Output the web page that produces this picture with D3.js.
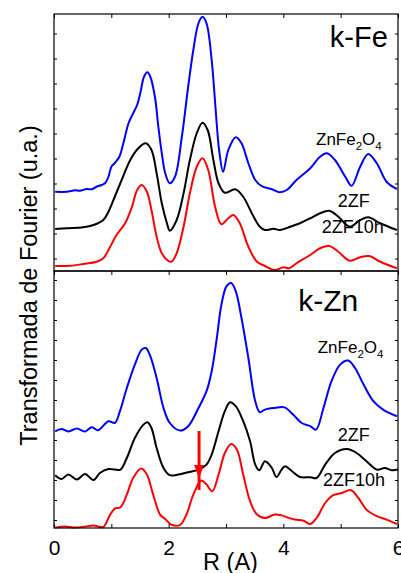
<!DOCTYPE html>
<html><head><meta charset="utf-8">
<script src="https://cdn.jsdelivr.net/npm/d3@7"></script>
<style>body{margin:0;background:#fff}text{font-family:"Liberation Sans",Arial,sans-serif}</style>
</head><body><svg id="c" width="401" height="573"></svg>
<script>
// R (Å) values and intensities (arbitrary units)
const feBlueR = [0.02,0.22,0.37,0.45,0.57,0.66,0.74,0.83,0.89,0.95,1.0,1.06,1.14,1.21,1.30,1.38,1.45,1.51,1.57,1.63,1.68,1.76,1.82,1.88,1.94,2.02,2.11,2.23,2.34,2.43,2.52,2.59,2.66,2.75,2.82,2.88,2.95,3.04,3.17,3.27,3.39,3.51,3.62,3.80,3.94,4.06,4.23,4.47,4.64,4.76,4.90,5.08,5.19,5.34,5.48,5.63,5.80,5.98];
const feBlue = [2.67,2.67,2.73,2.71,2.78,2.77,2.87,2.94,3.01,3.27,3.67,3.82,4.07,4.61,5.41,5.81,6.14,6.67,7.27,7.45,7.27,6.47,5.27,4.21,3.41,3.01,3.27,4.87,6.87,8.34,9.41,9.67,9.41,7.94,5.94,4.34,3.47,4.34,4.85,4.61,3.81,3.14,2.90,2.77,2.65,2.74,3.14,3.61,4.07,4.21,3.94,3.27,2.91,3.67,4.18,3.81,3.07,2.78];
const feBlackR = [0.02,0.22,0.51,0.69,0.86,0.95,1.06,1.18,1.33,1.47,1.60,1.70,1.79,1.88,1.97,2.02,2.14,2.26,2.37,2.49,2.59,2.68,2.78,2.87,2.98,3.16,3.30,3.45,3.59,3.68,3.83,3.94,4.12,4.29,4.47,4.64,4.80,4.96,5.16,5.34,5.48,5.69,5.98];
const feBlack = [1.18,1.21,1.25,1.34,1.54,1.87,2.47,3.14,3.94,4.41,4.61,4.34,3.41,2.21,1.41,1.11,1.54,2.61,3.94,5.01,5.43,5.14,3.94,3.01,2.63,2.77,2.47,1.81,1.27,1.14,1.19,1.14,1.27,1.41,1.61,1.81,1.91,1.67,1.27,1.54,1.65,1.41,1.14];
const feRedR = [0.02,0.28,0.51,0.74,0.86,0.98,1.09,1.24,1.36,1.45,1.53,1.62,1.70,1.79,1.88,1.99,2.05,2.14,2.26,2.37,2.49,2.59,2.69,2.81,2.92,3.04,3.13,3.24,3.39,3.54,3.68,3.85,4.0,4.10,4.23,4.47,4.64,4.80,4.96,5.16,5.34,5.50,5.69,5.98];
const feRed = [-0.30,-0.29,-0.22,-0.13,0.01,0.47,0.94,1.41,2.07,2.74,2.94,2.67,1.94,0.87,0.21,-0.09,-0.13,0.21,1.27,2.61,3.67,4.01,3.54,2.07,1.37,1.61,1.74,1.41,0.47,-0.13,-0.30,-0.46,-0.35,-0.39,-0.19,0.14,0.41,0.50,0.27,-0.09,0.05,0.10,-0.13,-0.39];

const znBlueR = [0.02,0.13,0.25,0.40,0.54,0.66,0.77,0.95,1.06,1.15,1.27,1.41,1.53,1.60,1.67,1.79,1.91,2.02,2.20,2.34,2.52,2.66,2.75,2.84,2.92,3.01,3.09,3.17,3.27,3.39,3.51,3.59,3.68,3.85,4.02,4.17,4.32,4.47,4.57,4.70,4.84,4.99,5.13,5.25,5.40,5.57,5.74,5.98];
const znBlue = [4.43,4.55,4.43,4.57,4.43,4.64,4.49,4.94,4.85,5.44,6.60,7.77,8.52,8.60,8.27,7.10,5.60,4.85,4.47,4.69,5.60,6.44,7.44,9.10,10.77,11.69,11.85,11.44,10.10,8.10,5.94,5.39,5.52,5.60,5.63,5.27,4.85,4.69,4.52,5.60,6.94,7.77,7.97,7.60,6.77,5.94,5.52,5.19];
const znBlackR = [0.02,0.13,0.25,0.40,0.54,0.69,0.80,0.95,1.06,1.16,1.27,1.41,1.56,1.63,1.70,1.79,1.91,2.02,2.17,2.34,2.52,2.66,2.75,2.87,2.98,3.07,3.17,3.30,3.42,3.51,3.58,3.68,3.80,3.88,3.97,4.03,4.15,4.29,4.47,4.58,4.73,4.90,5.11,5.28,5.45,5.63,5.77,5.89,6.0];
const znBlack = [2.24,2.05,2.27,2.02,2.30,2.00,2.35,2.55,2.52,2.52,3.10,4.10,4.77,4.89,4.60,3.60,2.60,2.24,2.27,2.39,2.52,2.77,3.27,4.44,5.44,5.89,5.69,4.94,3.94,2.77,2.49,2.94,2.60,2.15,2.52,2.69,2.44,2.15,2.14,2.10,2.77,3.35,3.55,3.35,2.94,2.52,2.60,2.49,2.52];
const znRedR = [0.02,0.19,0.34,0.51,0.69,0.77,0.86,0.98,1.06,1.16,1.27,1.38,1.52,1.62,1.73,1.85,1.94,2.05,2.20,2.31,2.43,2.57,2.66,2.76,2.87,2.98,3.09,3.19,3.30,3.42,3.54,3.68,3.85,3.97,4.06,4.20,4.35,4.47,4.58,4.73,4.87,5.02,5.18,5.31,5.45,5.63,5.80,5.98];
const znRed = [-0.38,-0.32,-0.37,-0.34,-0.27,-0.32,-0.35,0.27,0.57,0.64,1.27,2.10,2.57,2.27,1.27,0.27,0.05,-0.24,-0.24,0.27,1.27,1.97,1.77,1.44,2.27,3.35,3.80,3.52,2.27,0.94,0.27,0.10,0.27,0.23,0.14,0.02,-0.04,-0.20,0.10,0.85,1.24,1.35,1.49,1.10,0.52,0.19,0.02,-0.20];

const xTicks = [0,1,2,3,4,5,6];
const xTickLabels = ["0","","2","","4","","6"];
const feYTicks = [0,1,2,3,4,5,6,7,8,9];
const znYTicks = [0,1,2,3,4,5,6,7,8,9,10,11,12];
const arrowR = 2.53, arrowFrom = 4.45, arrowTo = 2.1;

const svg = d3.select("#c");
const L = 54, R = 398, T1 = 14, M = 271, B = 528;
const x = d3.scaleLinear().domain([0,6]).range([L,R]);
const y1 = d3.scaleLinear().domain([-0.5,9.78]).range([M,T1]);
const y2 = d3.scaleLinear().domain([-0.4,12.45]).range([B,M]);

function drawLine(rs, vs, y, color){
  const line = d3.line().x(d=>x(d[0])).y(d=>y(d[1])).curve(d3.curveCatmullRom.alpha(0.5));
  svg.append("path").datum(d3.zip(rs,vs)).attr("d",line)
    .attr("fill","none").attr("stroke",color).attr("stroke-width",2).attr("stroke-linejoin","round");
}
drawLine(feBlueR,feBlue,y1,"#0000ff");
drawLine(feBlackR,feBlack,y1,"#000000");
drawLine(feRedR,feRed,y1,"#ff0000");
drawLine(znBlueR,znBlue,y2,"#0000ff");
drawLine(znBlackR,znBlack,y2,"#000000");
drawLine(znRedR,znRed,y2,"#ff0000");

// axes (inside ticks)
function panelAxes(y, ticks, top, bottom, bottomLabels){
  svg.append("g").attr("transform",`translate(0,${top})`)
    .call(d3.axisTop(x).tickValues(xTicks).tickSize(-4).tickFormat(""));
  svg.append("g").attr("transform",`translate(0,${bottom})`)
    .call(d3.axisBottom(x).tickValues(xTicks).tickSize(bottomLabels? -4 : 0).tickPadding(bottomLabels?12:0)
      .tickFormat((d,i)=> bottomLabels ? xTickLabels[i] : ""));
  svg.append("g").attr("transform",`translate(${L},0)`)
    .call(d3.axisLeft(y).tickValues(ticks).tickSize(-3).tickFormat(""));
  svg.append("g").attr("transform",`translate(${R},0)`)
    .call(d3.axisRight(y).tickValues(ticks).tickSize(-3).tickFormat(""));
  svg.append("rect").attr("x",L).attr("y",top).attr("width",R-L).attr("height",bottom-top)
    .attr("fill","none").attr("stroke","#000").attr("stroke-width",1.2);
}
panelAxes(y1, feYTicks, T1, M, false);
panelAxes(y2, znYTicks, M, B, true);
svg.selectAll(".domain").remove();
svg.selectAll(".tick line").attr("stroke","#000").attr("stroke-width",1);
svg.selectAll(".tick text").attr("font-size",21).attr("font-family","Liberation Sans, Arial, sans-serif").attr("fill","#000");

// arrow
svg.append("line").attr("x1",x(arrowR)).attr("x2",x(arrowR)).attr("y1",y2(arrowFrom)).attr("y2",y2(arrowTo)+12)
  .attr("stroke","#ff0000").attr("stroke-width",3);
svg.append("path").attr("d",`M${x(arrowR)-5},${y2(arrowTo)-13} L${x(arrowR)+5},${y2(arrowTo)-13} L${x(arrowR)},${y2(arrowTo)} Z`)
  .attr("fill","#ff0000");

// labels
function formula(xx, yy, size){
  const t = svg.append("text").attr("x",xx).attr("y",yy).attr("font-size",size).attr("fill","#000");
  t.append("tspan").text("ZnFe");
  t.append("tspan").text("2").attr("font-size",size*0.68).attr("dy",5);
  t.append("tspan").text("O").attr("dy",-5);
  t.append("tspan").text("4").attr("font-size",size*0.68).attr("dy",5);
}
function label(txt, xx, yy, size){
  svg.append("text").attr("x",xx).attr("y",yy).attr("font-size",size).attr("fill","#000").text(txt);
}
label("k-Fe", x(4.81), y1(8.46), 29);
formula(x(4.57), y1(4.54), 17);
label("2ZF", x(4.95), y1(2.06), 18);
label("2ZF10h", x(4.67), y1(1.02), 18);
label("k-Zn", x(4.26), y2(10.45), 30);
formula(x(4.60), y2(8.35), 17);
label("2ZF", x(4.95), y2(3.95), 18);
label("2ZF10h", x(4.69), y2(1.7), 18);

svg.append("text").attr("x",230.5).attr("y",570).attr("text-anchor","middle").attr("font-size",23.5).text("R (A)");
svg.append("text").attr("transform",`translate(37,${(123+448)/2}) rotate(-90)`).attr("text-anchor","middle")
  .attr("font-size",23.5).text("Transformada de Fourier (u.a.)");
</script></body></html>
